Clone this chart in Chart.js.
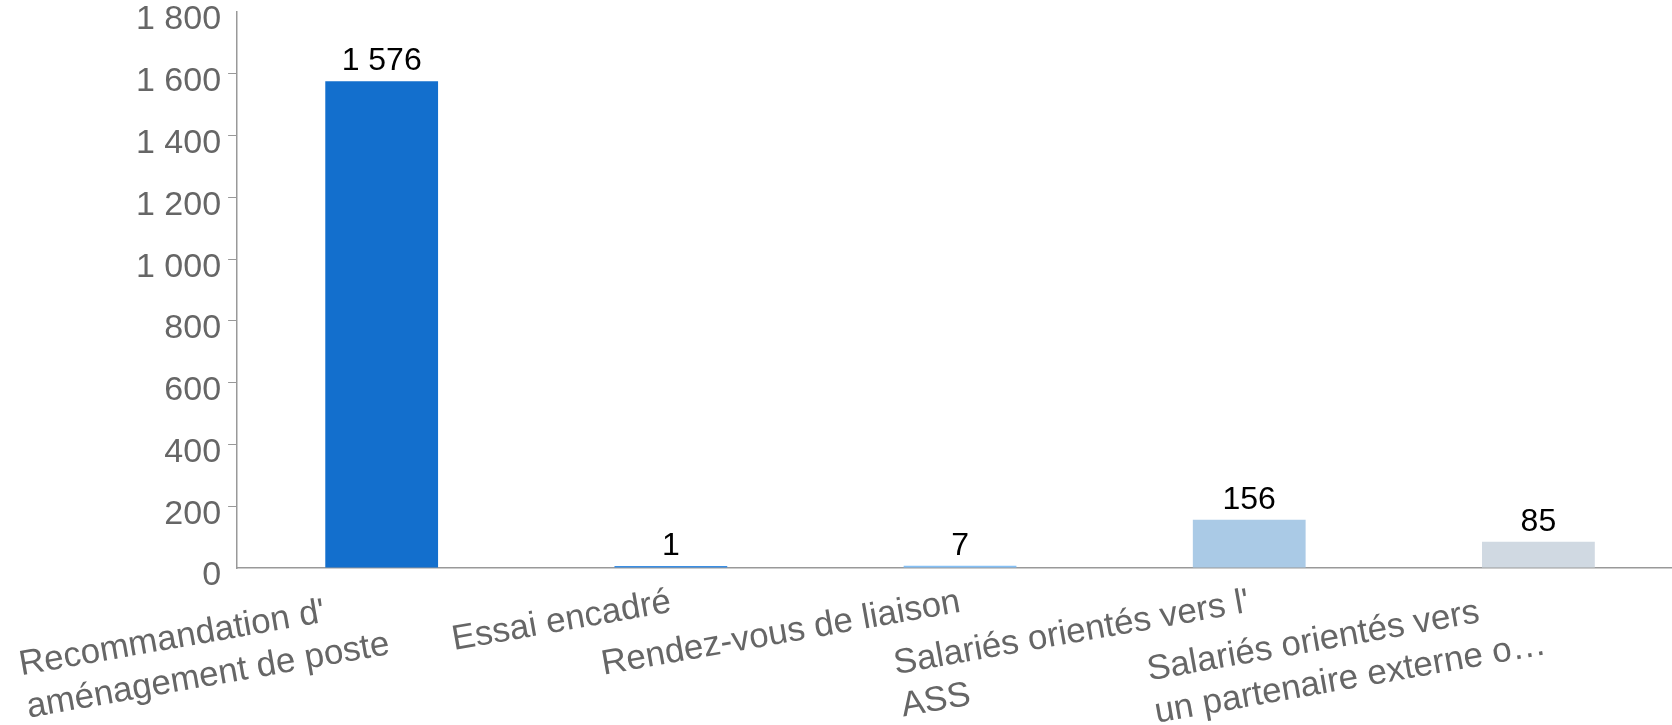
<!DOCTYPE html>
<html>
<head>
<meta charset="utf-8">
<script src="https://cdn.jsdelivr.net/npm/chart.js@4.4.1/dist/chart.umd.min.js"></script>
<style>
html, body { margin: 0; padding: 0; background: #fff; overflow: hidden; }
#wrap { width: 1700px; height: 725px; }
</style>
</head>
<body>
<div id="wrap"><canvas id="chart" width="1700" height="725"></canvas></div>
<script>
// Data
const categories = [
    ["Recommandation d'", "aménagement de poste"],
    ["Essai encadré"],
    ["Rendez-vous de liaison"],
    ["Salariés orientés vers l'", "ASS"],
    ["Salariés orientés vers", "un partenaire externe o…"]
];
const values = [1576, 1, 7, 156, 85];
const barColors = ['#136fcd', '#3a8ee4', '#84c0f6', '#aacae6', '#d0d9e2'];
const yMin = 0;
const yMax = 1800;
const yStep = 200;

const FONT = '"Liberation Sans", Arial, sans-serif';

// 1576 -> "1 576"
function fmt(v) {
    return String(v).replace(/\B(?=(\d{3})+(?!\d))/g, ' ');
}

// Value labels above bars
const valueLabels = {
    id: 'valueLabels',
    afterDatasetsDraw(chart) {
        const ctx = chart.ctx;
        const meta = chart.getDatasetMeta(0);
        ctx.save();
        ctx.font = '32px ' + FONT;
        ctx.fillStyle = '#000';
        ctx.textAlign = 'center';
        ctx.textBaseline = 'alphabetic';
        meta.data.forEach((bar, i) => {
            ctx.fillText(fmt(values[i]), bar.x, bar.y - 11);
        });
        ctx.restore();
    }
};

// Rotated category labels, lines left-aligned inside the block
const categoryLabels = {
    id: 'categoryLabels',
    afterDraw(chart) {
        const ctx = chart.ctx;
        const xs = chart.scales.x;
        ctx.save();
        ctx.font = '35px ' + FONT;
        ctx.fillStyle = '#666';
        ctx.textAlign = 'left';
        ctx.textBaseline = 'middle';
        categories.forEach((lines, i) => {
            const x = xs.getPixelForTick(i);
            const y = xs.top + 34;
            const w = Math.max(...lines.map(l => ctx.measureText(l).width));
            ctx.save();
            ctx.translate(x, y);
            ctx.rotate(-10 * Math.PI / 180);
            lines.forEach((l, j) => ctx.fillText(l, -w, j * 43));
            ctx.restore();
        });
        ctx.restore();
    }
};

new Chart(document.getElementById('chart'), {
    type: 'bar',
    data: {
        labels: categories.map(c => c.join(' ')),
        datasets: [{
            data: values,
            backgroundColor: barColors,
            borderWidth: 0,
            minBarLength: 2,
            categoryPercentage: 1,
            barPercentage: 0.39
        }]
    },
    options: {
        responsive: false,
        animation: false,
        events: [],
        layout: {
            padding: { left: 129, top: 12, right: 17, bottom: 149 }
        },
        plugins: {
            legend: { display: false },
            tooltip: { enabled: false }
        },
        scales: {
            x: {
                grid: { display: false },
                border: { display: true, color: '#999', width: 1.5 },
                ticks: { display: false }
            },
            y: {
                min: yMin,
                max: yMax,
                grid: {
                    display: true,
                    drawOnChartArea: false,
                    drawTicks: true,
                    tickLength: 9,
                    color: ctx => (ctx.tick && (ctx.tick.value === yMin || ctx.tick.value === yMax)) ? 'rgba(0,0,0,0)' : '#999'
                },
                border: { display: true, color: '#999', width: 1.5 },
                ticks: {
                    stepSize: yStep,
                    color: '#666',
                    padding: 7,
                    labelOffset: 8,
                    font: { family: FONT, size: 34, lineHeight: 0.3 },
                    callback: v => fmt(v)
                }
            }
        }
    },
    plugins: [valueLabels, categoryLabels]
});
</script>
</body>
</html>
